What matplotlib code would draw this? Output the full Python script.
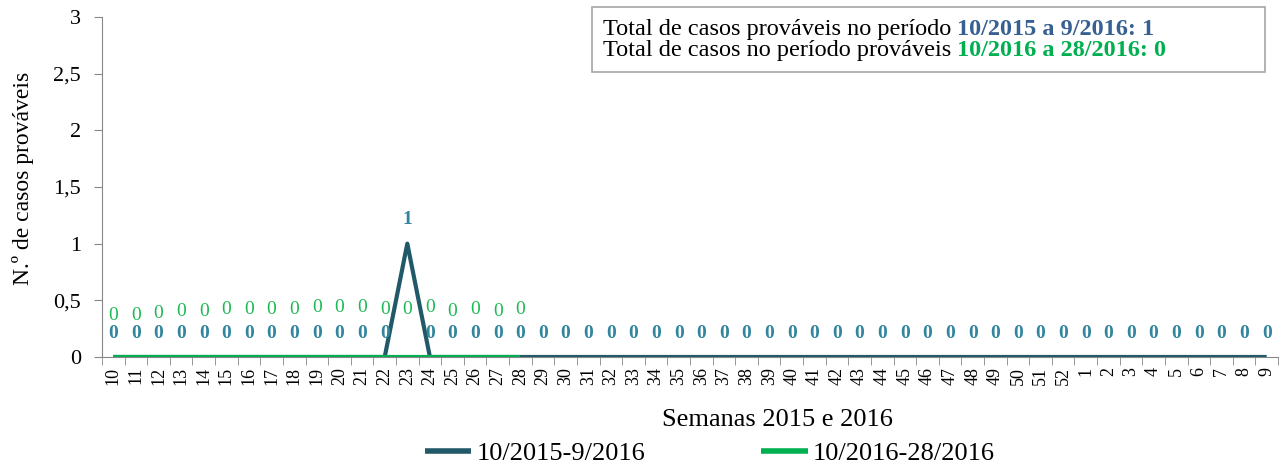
import numpy as np
import matplotlib.pyplot as plt
from matplotlib.patches import Rectangle
from matplotlib.offsetbox import TextArea, HPacker, AnchoredOffsetbox

plt.rcParams['font.family'] = ['Liberation Serif', 'DejaVu Serif']

weeks = [str(w) for w in range(10, 53)] + [str(w) for w in range(1, 10)]
casos_2015_2016 = [0] * 13 + [1] + [0] * 38
casos_2016 = [0] * 19
green_label_dy = [42, 42, 44, 45, 45, 48, 48, 48, 47, 50, 50, 50, 47, 47, 50, 46, 47, 45, 47]

blue_line = '#215968'
green_line = '#00b050'
blue_lbl = '#31859c'
green_lbl = '#1db954'

W, H = 1285, 466
fig = plt.figure(figsize=(W / 100, H / 100), dpi=100)
ax = fig.add_axes([102 / W, 1 - 357 / H, 1176 / W, 340 / H])

x = np.arange(len(weeks))
ax.plot(x, casos_2015_2016, color=blue_line, lw=3, label='10/2015-9/2016', solid_capstyle='butt')
x2 = np.arange(len(casos_2016))
ax.plot(x2, casos_2016, color=green_line, lw=3, label='10/2016-28/2016', solid_capstyle='butt')

for xi, v in zip(x, casos_2015_2016):
    ax.annotate(str(v), (xi, v), xytext=(0, 24), textcoords='offset pixels',
                ha='center', va='center', color=blue_lbl, fontsize=14, fontweight='bold')
for xi, v, dy in zip(x2, casos_2016, green_label_dy):
    ax.annotate(str(v), (xi, v), xytext=(0, dy), textcoords='offset pixels',
                ha='center', va='center', color=green_lbl, fontsize=14)

ax.set_xlim(-0.5, len(weeks) - 0.5)
ax.set_ylim(0, 3)
ax.set_yticks([0, 0.5, 1, 1.5, 2, 2.5, 3])
ax.set_yticklabels(['0', '0,5', '1', '1,5', '2', '2,5', '3'], fontsize=16)
ax.set_xticks(x)
ax.set_xticklabels(weeks, rotation=90, fontsize=13)
ax.set_xticks(np.arange(len(weeks) + 1) - 0.5, minor=True)
ax.tick_params(axis='x', which='major', length=0, pad=7)
ax.tick_params(axis='x', which='minor', length=6, color='#888888')
ax.tick_params(axis='y', length=6, color='#888888', pad=9)
for s in ['top', 'right']:
    ax.spines[s].set_visible(False)
for s in ['left', 'bottom']:
    ax.spines[s].set_color('#888888')

ax.set_ylabel('N.º de casos prováveis', fontsize=17)
ax.yaxis.set_label_coords(-0.058, 0.524)
fig.text(777 / W, 1 - 420 / H, 'Semanas 2015 e 2016', fontsize=19, ha='center', va='center')

leg = fig.legend(loc='center', bbox_to_anchor=(710 / W, 1 - 453 / H), ncol=2, frameon=False,
                 fontsize=19, handlelength=1.75, handletextpad=0.2, columnspacing=4.4,
                 borderpad=0)
for ln in leg.get_lines():
    ln.set_linewidth(4)

fig.add_artist(Rectangle((592 / W, 1 - 72 / H), 673 / W, 65 / H, transform=fig.transFigure,
                         facecolor='white', edgecolor='#a6a6a6', lw=1.2))
fs = 17.5
box_lines = [
    ('Total de casos prováveis no período ', '10/2015 a 9/2016: 1', '#376092', 40),
    ('Total de casos no período prováveis ', '10/2016 a 28/2016: 0', '#00b050', 61),
]
for plain, bold, col, ybot in box_lines:
    row = HPacker(children=[
        TextArea(plain, textprops=dict(fontsize=fs, color='black')),
        TextArea(bold, textprops=dict(fontsize=fs, color=col, fontweight='bold'))],
        pad=0, sep=0)
    fig.add_artist(AnchoredOffsetbox(loc='lower left', child=row, pad=0, frameon=False,
                                     bbox_to_anchor=(603 / W, 1 - ybot / H),
                                     bbox_transform=fig.transFigure, borderpad=0))

fig.savefig('out.png', dpi=100)
